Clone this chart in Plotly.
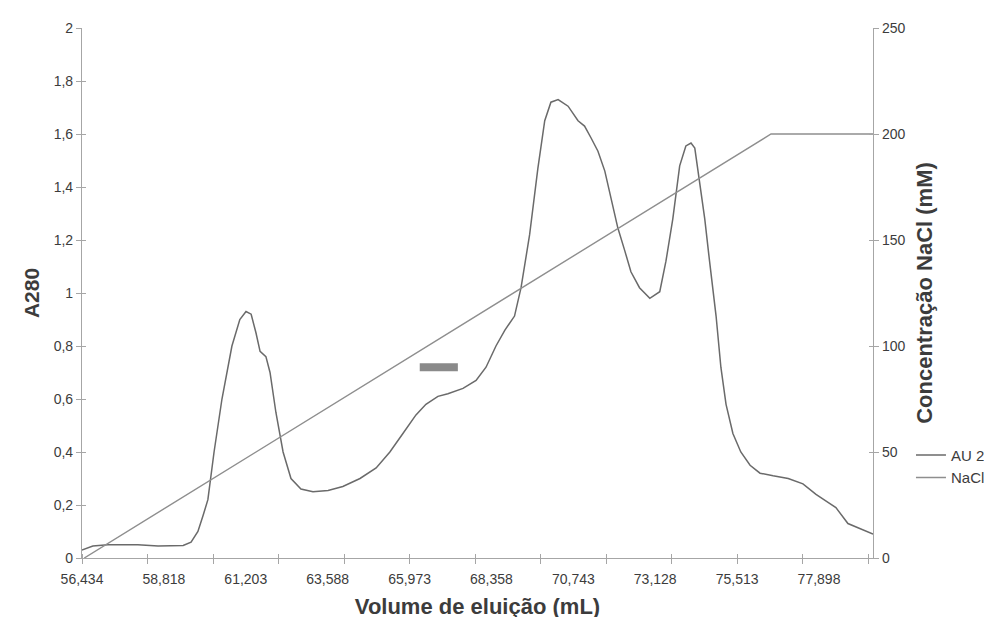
import numpy as np
import plotly.graph_objects as go

# ---------------- data ----------------
x_labels = ["56,434", "58,818", "61,203", "63,588", "65,973", "68,358",
            "70,743", "73,128", "75,513", "77,898"]

au_x = [56.43, 56.75, 57.19, 58.06, 58.65, 59.38, 59.61, 59.81, 59.96, 60.10,
        60.28, 60.51, 60.80, 61.03, 61.21, 61.36, 61.50, 61.62, 61.79, 61.91,
        62.08, 62.29, 62.52, 62.81, 63.16, 63.60, 64.03, 64.53, 65.00, 65.40,
        65.78, 66.16, 66.45, 66.80, 67.09, 67.53, 67.91, 68.20, 68.49, 68.75,
        69.03, 69.22, 69.47, 69.71, 69.91, 70.09, 70.30, 70.59, 70.88, 71.07,
        71.26, 71.46, 71.66, 71.84, 72.04, 72.24, 72.42, 72.67, 72.97, 73.26,
        73.44, 73.64, 73.84, 74.02, 74.17, 74.28, 74.42, 74.57, 74.71, 74.90,
        75.04, 75.19, 75.39, 75.62, 75.89, 76.18, 76.56, 77.00, 77.43, 77.81,
        78.16, 78.39, 78.74, 79.09, 79.47]
au_y = [0.03, 0.045, 0.05, 0.05, 0.045, 0.047, 0.06, 0.10, 0.16, 0.22,
        0.40, 0.60, 0.80, 0.90, 0.93, 0.92, 0.85, 0.78, 0.76, 0.70,
        0.55, 0.40, 0.30, 0.26, 0.25, 0.255, 0.27, 0.30, 0.34, 0.40,
        0.47, 0.54, 0.58, 0.61, 0.62, 0.64, 0.67, 0.72, 0.80, 0.86,
        0.913, 1.02, 1.22, 1.47, 1.65, 1.72, 1.73, 1.705, 1.65, 1.63,
        1.585, 1.535, 1.46, 1.36, 1.245, 1.16, 1.08, 1.02, 0.98, 1.005,
        1.12, 1.28, 1.48, 1.555, 1.566, 1.547, 1.41, 1.28, 1.12, 0.913,
        0.72, 0.58, 0.47, 0.40, 0.35, 0.32, 0.31, 0.30, 0.28, 0.24,
        0.21, 0.19, 0.13, 0.11, 0.09]

nacl_x = [56.50, 76.50, 79.47]
nacl_y = [0, 200, 200]

fraction_x = [66.27, 67.38]
fraction_y = [0.72, 0.72]

minor_step = 1.908

# ---------------- figure ----------------
FONT = "Liberation Sans, Arial, sans-serif"
TXT = "#3c3c3c"
AXC = "#a6a6a6"

label_vals = [float(s.replace(",", ".")) for s in x_labels]
x_end = au_x[-1]
x_range = [label_vals[0], x_end]
minor_vals = list(np.arange(label_vals[0], x_end, minor_step))

fig = go.Figure()
fig.add_trace(go.Scatter(x=au_x, y=au_y, mode="lines", name="AU 280 nm",
                         line=dict(color="#6a6a6a", width=1.5)))
fig.add_trace(go.Scatter(x=nacl_x, y=nacl_y, mode="lines", name="NaCl",
                         yaxis="y2", line=dict(color="#8e8e8e", width=1.4)))
fig.add_trace(go.Scatter(x=fraction_x, y=fraction_y, mode="lines",
                         showlegend=False, hoverinfo="skip",
                         line=dict(color="#8a8a8a", width=8)))
# invisible carriers for the inner halves of the crossing tick marks
fig.add_trace(go.Scatter(x=x_range, y=[0, 2], mode="none", xaxis="x2",
                         yaxis="y3", showlegend=False, hoverinfo="skip"))
fig.add_trace(go.Scatter(x=x_range, y=[0, 250], mode="none", xaxis="x2",
                         yaxis="y4", showlegend=False, hoverinfo="skip"))

tick_in = dict(ticks="inside", ticklen=4, tickcolor=AXC, tickwidth=1,
               showticklabels=False, showline=False, showgrid=False,
               zeroline=False)

fig.update_layout(
    width=992, height=617,
    margin=dict(l=74, r=127, t=20, b=67, autoexpand=False),
    paper_bgcolor="white", plot_bgcolor="white",
    separators=",.",
    font=dict(family=FONT, size=14, color=TXT),
    showlegend=True,
    legend=dict(x=1.048, xanchor="left", y=0.225, yanchor="top",
                font=dict(family=FONT, size=15, color=TXT),
                bgcolor="rgba(0,0,0,0)", tracegroupgap=0),
    xaxis=dict(range=x_range, tickmode="array",
               tickvals=label_vals, ticktext=x_labels,
               ticks="outside", ticklen=8, tickcolor="rgba(0,0,0,0)",
               showline=True, linecolor=AXC, linewidth=1.2,
               showgrid=False, zeroline=False,
               tickfont=dict(size=14, color=TXT),
               minor=dict(tickmode="array", tickvals=minor_vals,
                          ticks="outside", ticklen=5, tickcolor=AXC,
                          tickwidth=1, showgrid=False),
               title=dict(text="Volume de eluição (mL)", standoff=12,
                          font=dict(size=22, color=TXT, weight="bold"))),
    xaxis2=dict(range=x_range, overlaying="x", anchor="y", side="bottom",
                tickmode="array", tickvals=[],
                minor=dict(tickmode="array", tickvals=minor_vals,
                           ticks="inside", ticklen=4, tickcolor=AXC,
                           tickwidth=1, showgrid=False),
                showticklabels=False, showline=False, showgrid=False,
                zeroline=False),
    yaxis=dict(range=[0, 2], dtick=0.2, tick0=0,
               ticks="outside", ticklen=5, tickcolor=AXC,
               showline=True, linecolor=AXC, linewidth=1.2,
               showgrid=False, zeroline=False,
               tickfont=dict(size=14, color=TXT),
               title=dict(text="A280", standoff=8,
                          font=dict(size=21, color=TXT, weight="bold"))),
    yaxis2=dict(range=[0, 250], dtick=50, tick0=0, overlaying="y",
                side="right",
                ticks="outside", ticklen=5, tickcolor=AXC,
                showline=True, linecolor=AXC, linewidth=1.2,
                showgrid=False, zeroline=False,
                tickfont=dict(size=14, color=TXT),
                title=dict(text="Concentração NaCl (mM)", standoff=12,
                           font=dict(size=22, color=TXT, weight="bold"))),
    yaxis3=dict(range=[0, 2], dtick=0.2, tick0=0, overlaying="y",
                side="left", anchor="x2", **tick_in),
    yaxis4=dict(range=[0, 250], dtick=50, tick0=0, overlaying="y",
                side="right", anchor="x2", **tick_in),
)

fig.write_html("out.html")
